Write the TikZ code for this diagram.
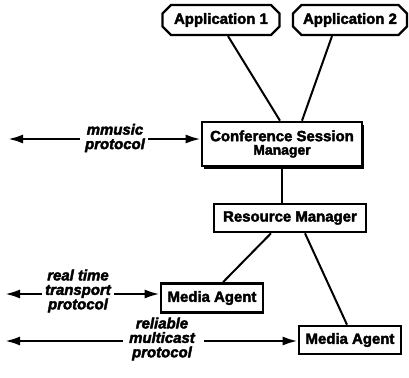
\documentclass[tikz,border=0pt]{standalone}
\usepackage{fontspec}
\setmainfont{Liberation Sans}
\newfontfamily\heavy{Liberation Sans Bold}[FakeBold=2.5]
\newfontfamily\heavyit{Liberation Sans Bold Italic}[FakeBold=2.5]
\usetikzlibrary{arrows.meta,shapes.misc,shadows}
\begin{document}
\begin{tikzpicture}[x=1bp,y=-1bp,
  lbl/.style={font=\fontsize{15}{14.5}\selectfont\heavy},
  boxnode/.style={draw,fill=white,line width=2.6bp,inner sep=0pt,lbl},
  appnode/.style={draw,line width=2.2bp,chamfered rectangle,chamfered rectangle xsep=5bp,inner sep=0pt,lbl},
  proto/.style={font=\fontsize{15}{14.5}\selectfont\heavyit,align=center,inner sep=1bp},
  conn/.style={line width=2bp},
  parrow/.style={line width=2.4bp,-{Latex[length=15bp,width=9bp]}}]
\useasboundingbox (0,0) rectangle (409,378);
\node[appnode,minimum width=117bp,minimum height=30bp] (app1) at (221,20) {Application 1};
\node[appnode,minimum width=114bp,minimum height=30bp] (app2) at (350,20) {Application 2};
\node[boxnode,minimum width=160bp,minimum height=44bp,align=center,
  drop shadow={fill=black,opacity=1,shadow xshift=2bp,shadow yshift=-3bp}] (csm) at (282,144)
  {Conference Session\\[-1bp]{\fontsize{14}{14}\selectfont Manager}};
\node[boxnode,minimum width=152bp,minimum height=28bp] (rm) at (290,218) {Resource Manager};
\node[boxnode,minimum width=102bp,minimum height=29bp] (ma1) at (212,298) {Media Agent};
\node[boxnode,minimum width=102bp,minimum height=28bp] (ma2) at (350,340) {Media Agent};
\node[proto] (mm) at (115,138) {mmusic\\protocol};
\node[proto] (rtp) at (78,291) {real time\\transport\\protocol};
\node[proto] (rmp) at (162,339) {reliable\\multicast\\protocol};
\coordinate (mmL) at (8,139);
\coordinate (rtpL) at (5,294);
\coordinate (rmpL) at (5,341);
\coordinate (mmA) at (mm.west |- mmL);
\coordinate (mmB) at (mm.east |- mmL);
\coordinate (mmC) at (csm.west |- mmL);
\coordinate (rtpA) at (rtp.west |- rtpL);
\coordinate (rtpB) at (rtp.east |- rtpL);
\coordinate (rtpC) at (ma1.west |- rtpL);
\coordinate (rmpA) at (rmp.west |- rmpL);
\coordinate (rmpB) at (rmp.east |- rmpL);
\coordinate (rmpC) at (ma2.west |- rmpL);
% connectors
\draw[conn] ([xshift=7bp]app1.south) -- ([xshift=-2bp]csm.north);
\draw[conn] ([xshift=-18bp]app2.south) -- ([xshift=20bp]csm.north);
\draw[conn] (csm.south) -- (csm.south |- rm.north);
\draw[conn] ([xshift=-19bp]rm.south) -- ([xshift=11bp]ma1.north);
\draw[conn] ([xshift=15bp]rm.south) -- ([xshift=-3bp]ma2.north);
% protocol arrows
\draw[parrow] ([xshift=-4bp]mmA) -- (mmL);
\draw[parrow] ([xshift=2bp]mmB) -- (mmC);
\draw[parrow] ([xshift=-2bp]rtpA) -- (rtpL);
\draw[parrow] ([xshift=2bp]rtpB) -- (rtpC);
\draw[parrow] ([xshift=-5bp]rmpA) -- (rmpL);
\draw[parrow] ([xshift=8bp]rmpB) -- (rmpC);
\end{tikzpicture}
\end{document}
